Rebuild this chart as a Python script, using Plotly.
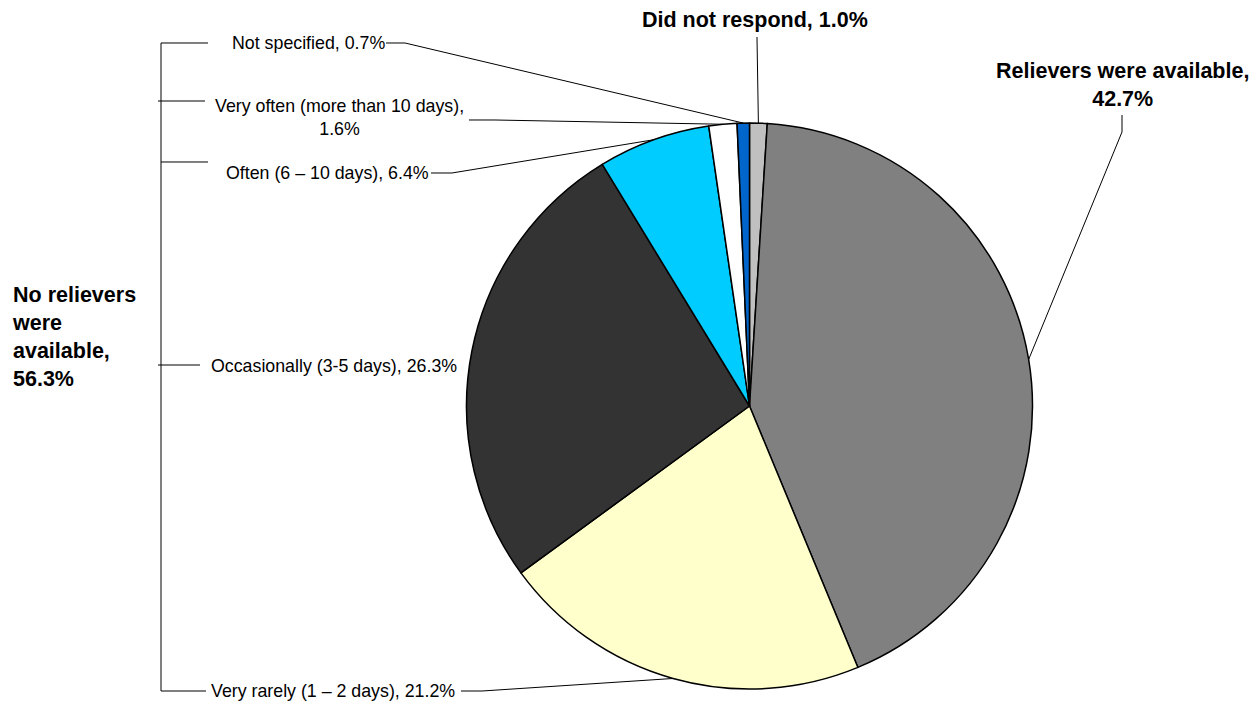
import math
import plotly.graph_objects as go

# ---- data ----
labels = ["Did not respond", "Relievers were available", "Very rarely (1 – 2 days)",
          "Occasionally (3-5 days)", "Often (6 – 10 days)",
          "Very often (more than 10 days)", "Not specified"]
values = [1.0, 42.7, 21.2, 26.3, 6.4, 1.6, 0.7]
colors = ["#C0C0C0", "#808080", "#FFFFCC", "#333333", "#00CCFF", "#FFFFFF", "#0066CC"]
group_label = "No relievers<br>were<br>available,<br>56.3%"

W, H = 1260, 708
CX, CY, R = 749.5, 406.0, 283.0  # pie centre / radius in pixels (layout)

def px(x):
    return x / W

def py(y):
    return 1 - y / H

total = sum(values)
mid_pts = []
cum = 0.0
for v in values:
    a = (cum + v / 2) / total * 2 * math.pi  # clockwise from 12 o'clock
    mid_pts.append((CX + R * math.sin(a), CY - R * math.cos(a)))
    cum += v

fig = go.Figure(go.Pie(
    labels=labels, values=values, sort=False, direction="clockwise", rotation=0,
    marker=dict(colors=colors, line=dict(color="#000000", width=1.5)),
    textinfo="none", hoverinfo="label+percent", showlegend=False,
    domain=dict(x=[px(CX - R), px(CX + R)], y=[py(CY + R), py(CY - R)]),
))

FONT = "Liberation Sans, Arial, sans-serif"
reg = dict(family=FONT, size=17.8, color="#000000")
bold = dict(family=FONT, size=21.5, color="#000000")

def fmt(i):
    return f"{labels[i]}, {values[i]:.1f}%"

annotations = [
    dict(text="<b>" + fmt(0) + "</b>", x=px(755), y=py(20), font=bold),
    dict(text=f"<b>{labels[1]},<br>{values[1]:.1f}%</b>", x=px(1122), y=py(85), font=bold),
    dict(text=fmt(6), x=px(308), y=py(43), font=reg),
    dict(text=f"{labels[5]},<br>{values[5]:.1f}%", x=px(339), y=py(118), font=reg),
    dict(text=fmt(4), x=px(327), y=py(173), font=reg),
    dict(text=fmt(3), x=px(334), y=py(366), font=reg),
    dict(text=fmt(2), x=px(333), y=py(691), font=reg),
    dict(text="<b>" + group_label + "</b>", x=px(10), y=py(337), font=bold,
         xanchor="left", align="left"),
]
for a in annotations:
    a.setdefault("xanchor", "center")
    a.update(xref="paper", yref="paper", yanchor="middle", showarrow=False)

def path(points):
    return "M " + " L ".join(f"{px(x):.5f},{py(y):.5f}" for x, y in points)

line_style = dict(color="#000000", width=1)
leaders = [
    [(386, 43), (405, 43), mid_pts[6]],
    [(469, 120), (495, 120), mid_pts[5]],
    [(431, 173), (452, 173), mid_pts[4]],
    [(461, 691), (482, 691), mid_pts[2]],
    [(757, 37), mid_pts[0]],
    [(1122, 115), (1122, 132), mid_pts[1]],
    # bracket for "No relievers were available"
    [(161, 43), (161, 691)],
    [(161, 43), (208, 43)],
    [(158, 101), (205, 101)],
    [(161, 162), (208, 162)],
    [(158, 365), (200, 365)],
    [(161, 691), (206, 691)],
]
shapes = [dict(type="path", path=path(p), xref="paper", yref="paper", line=line_style)
          for p in leaders]

fig.update_layout(
    width=W, height=H, margin=dict(l=0, r=0, t=0, b=0),
    paper_bgcolor="#FFFFFF", plot_bgcolor="#FFFFFF",
    annotations=annotations, shapes=shapes,
)
fig.write_html("out.html")
